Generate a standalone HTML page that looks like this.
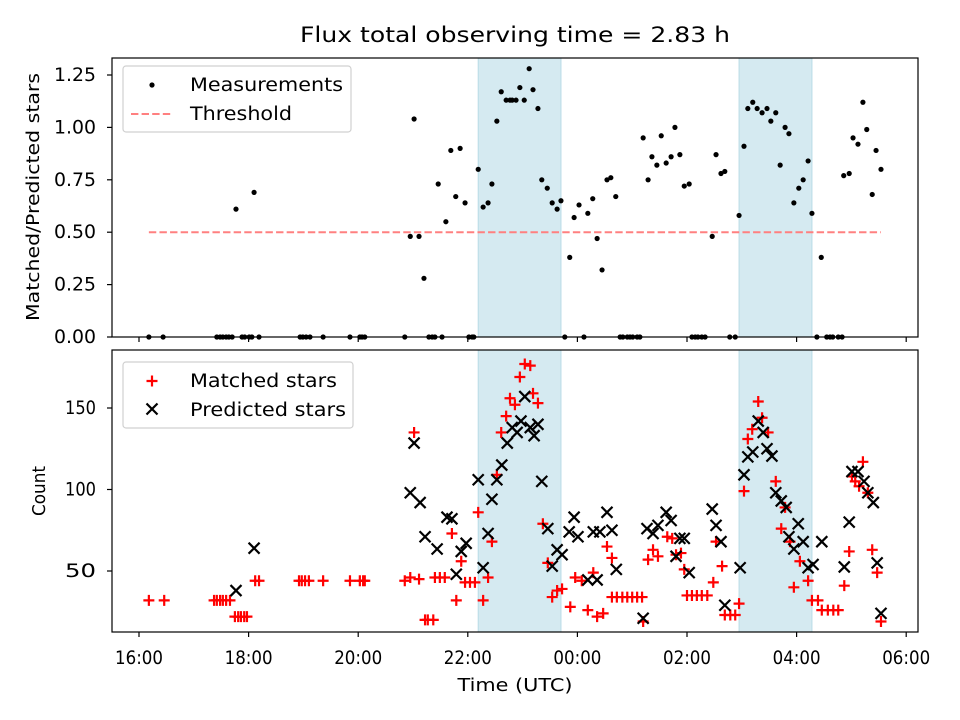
<!DOCTYPE html>
<html><head><meta charset="utf-8"><style>
html,body{margin:0;padding:0;background:#fff}
svg{display:block;font-family:"DejaVu Sans","Liberation Sans",sans-serif}
</style></head><body>
<svg id="chart" width="960" height="720" viewBox="0 0 960 720" xmlns="http://www.w3.org/2000/svg">
<text x="515" y="42" font-size="21" text-anchor="middle" textLength="430" lengthAdjust="spacingAndGlyphs">Flux total observing time = 2.83 h</text>
<text transform="translate(39,197) rotate(-90)" font-size="18" text-anchor="middle" textLength="248" lengthAdjust="spacingAndGlyphs">Matched/Predicted stars</text>
<text transform="translate(45,491) rotate(-90)" font-size="18" text-anchor="middle" textLength="50" lengthAdjust="spacingAndGlyphs">Count</text>
<text x="515" y="691" font-size="18" text-anchor="middle" textLength="115" lengthAdjust="spacingAndGlyphs">Time (UTC)</text>
<g id="top"></g>
<g id="bot"></g>
</svg>
<script>
// hours since 16:00 UTC
const spanStarts = [6.19, 10.95];
const spanEnds = [7.70, 12.28];
const xTickHours = [0, 2, 4, 6, 8, 10, 12, 14];
const xTickLabels = ["16:00","18:00","20:00","22:00","00:00","02:00","04:00","06:00"];
const ratioTicks = [0, 0.25, 0.5, 0.75, 1.0, 1.25];
const ratioTickLabels = ["0.00","0.25","0.50","0.75","1.00","1.25"];
const countTicks = [50, 100, 150];
const threshold = 0.5;
const thresholdStart = 0.18, thresholdEnd = 13.54;

const ratioTimes = [0.18,0.44,1.42,1.48,1.53,1.59,1.64,1.70,1.88,1.93,2.01,2.06,2.19,2.94,2.99,3.05,3.12,3.36,3.85,4.03,4.07,4.12,4.85,5.29,5.35,5.40,5.53,6.02,6.08,6.11,7.77,8.12,8.78,8.83,8.91,8.96,9.01,9.09,9.14,10.09,10.15,10.20,10.27,10.33,10.78,10.88,12.37,12.55,12.61,12.66,12.76,12.83,
1.77,2.10,4.95,5.02,5.11,5.20,5.46,5.60,5.69,5.78,5.86,5.95,6.19,6.28,6.37,6.44,6.53,6.61,6.70,6.77,6.81,6.88,6.95,7.03,7.12,7.19,7.28,7.35,7.45,7.54,7.63,7.70,7.86,7.94,8.03,8.19,8.28,8.36,8.45,8.54,8.61,8.70,9.20,9.29,9.36,9.45,9.53,9.62,9.71,9.78,9.87,9.95,10.04,10.46,10.53,10.62,10.69,10.95,11.04,11.11,11.20,11.28,11.37,11.46,11.53,11.62,11.70,11.79,11.86,11.95,12.04,12.12,12.21,12.28,12.45,12.86,12.96,13.03,13.12,13.21,13.28,13.38,13.45,13.54];
const ratioValues = [0,0,0,0,0,0,0,0,0,0,0,0,0,0,0,0,0,0,0,0,0,0,0,0,0,0,0,0,0,0,0,0,0,0,0,0,0,0,0,0,0,0,0,0,0,0,0,0,0,0,0,0,
0.61,0.69,0.48,1.04,0.48,0.28,0.73,0.55,0.89,0.67,0.90,0.64,0.80,0.62,0.64,0.73,1.03,1.17,1.13,1.13,1.13,1.13,1.19,1.13,1.28,1.18,1.09,0.75,0.71,0.64,0.61,0.65,0.38,0.57,0.63,0.59,0.66,0.47,0.32,0.75,0.76,0.67,0.95,0.75,0.86,0.82,0.96,0.83,0.86,1.00,0.87,0.72,0.73,0.48,0.87,0.78,0.79,0.58,0.91,1.09,1.12,1.09,1.07,1.09,1.03,1.07,0.82,1.00,0.97,0.64,0.71,0.75,0.84,0.59,0.38,0.77,0.78,0.95,0.92,1.12,0.99,0.68,0.89,0.80];

const matchedTimes = [0.18,0.46,1.37,1.42,1.48,1.53,1.59,1.66,1.75,1.81,1.86,1.92,1.97,2.12,2.19,2.92,2.97,3.03,3.10,3.36,3.85,4.03,4.09,4.12,4.85,4.95,5.02,5.11,5.22,5.27,5.37,5.40,5.49,5.58,5.71,5.79,5.88,5.95,6.04,6.13,6.19,6.28,6.37,6.44,6.53,6.61,6.70,6.77,6.86,6.95,7.04,7.14,7.19,7.28,7.37,7.46,7.54,7.63,7.72,7.87,7.96,8.08,8.19,8.29,8.36,8.47,8.54,8.63,8.63,8.72,8.82,8.91,9.00,9.09,9.18,9.20,9.29,9.38,9.47,9.64,9.73,9.80,9.89,9.95,10.00,10.09,10.18,10.27,10.37,10.48,10.53,10.64,10.69,10.79,10.88,10.95,11.04,11.11,11.19,11.30,11.37,11.48,11.62,11.72,11.79,11.88,11.95,12.06,12.21,12.28,12.39,12.46,12.57,12.67,12.76,12.87,12.96,13.01,13.07,13.14,13.21,13.30,13.38,13.47,13.54];
const matchedCounts = [32,32,32,32,32,32,32,32,22,22,22,22,22,44,44,44,44,44,44,44,44,44,44,44,44,46,135,45,20,20,20,46,46,46,73,32,56,43,43,43,86,32,46,68,109,135,145,156,152,169,177,176,159,153,79,55,34,38,39,28,46,44,26,49,22,24,65,58,34,34,34,34,34,34,34,19,57,63,59,71,70,60,61,51,35,35,35,35,35,43,68,53,23,23,23,30,99,131,137,154,144,135,105,76,89,68,40,56,44,32,32,26,26,26,26,41,62,108,105,102,117,98,63,49,19];

const predictedTimes = [1.77,2.10,4.95,5.02,5.13,5.22,5.44,5.62,5.71,5.79,5.88,5.97,6.19,6.28,6.37,6.44,6.53,6.62,6.72,6.81,6.90,6.97,7.04,7.14,7.21,7.28,7.35,7.46,7.54,7.63,7.72,7.85,7.94,8.01,8.19,8.29,8.36,8.41,8.54,8.63,8.71,9.20,9.27,9.38,9.47,9.62,9.71,9.80,9.87,9.95,10.04,10.46,10.53,10.62,10.69,10.97,11.04,11.11,11.20,11.30,11.39,11.46,11.55,11.62,11.72,11.81,11.86,11.95,12.03,12.12,12.21,12.30,12.46,12.87,12.96,13.01,13.12,13.23,13.30,13.40,13.47,13.54];
const predictedCounts = [38,64,98,128.5,92,71,63.5,83,82,48,62,67,106,52,73,94,106,115,128.5,138,135,142,157,138,133,140,105,76,53,63,60,74,83,71,44.5,74,44.5,74,86,75,51,21,76,73,78,86,81,59,70,70,49,88,78,68,29,52,109,120,123,142,135,125,120.5,98,93,89,71,63.5,79,68,52,54,68,52.5,80,111,111,105,98,92,55,24];

const NS = "http://www.w3.org/2000/svg";
const L = 112, R = 918;
const X = h => 139 + h * 54.8;
const YT = v => 337 - v * 209.6;
const YB = c => 571 - (c - 50) * 1.63;
function mk(tag, attrs, parent) {
  const e = document.createElementNS(NS, tag);
  for (const k in attrs) e.setAttribute(k, attrs[k]);
  parent.appendChild(e);
  return e;
}
function panel(g, top, bottom, name) {
  for (let i = 0; i < spanStarts.length; i++) {
    const r = mk('rect', {x: X(spanStarts[i]), y: top, width: X(spanEnds[i]) - X(spanStarts[i]), height: bottom - top, fill: '#d5eaf1', stroke: '#b9dbe6', 'stroke-width': 1}, g);
    
    
  }
  for (let i = 0; i < xTickHours.length; i++) {
    const t = mk('line', {x1: X(xTickHours[i]), x2: X(xTickHours[i]), y1: bottom, y2: bottom + 5, stroke: '#000', 'stroke-width': 1.2}, g);
    
    
  }
}
function frame(g, top, bottom, name) {
  const f = mk('rect', {x: L, y: top, width: R - L, height: bottom - top, fill: 'none', stroke: '#000', 'stroke-width': 1.2}, g);
  
  
}
function plus(g, x, y) {
  const p = mk('path', {d: `M${x-5.5},${y}H${x+5.5}M${x},${y-5.5}V${y+5.5}`, stroke: '#ff0000', 'stroke-width': 2.2, fill: 'none'}, g);
  
  
}
function cross(g, x, y) {
  const p = mk('path', {d: `M${x-5.5},${y-5.5}L${x+5.5},${y+5.5}M${x-5.5},${y+5.5}L${x+5.5},${y-5.5}`, stroke: '#000', 'stroke-width': 2.2, fill: 'none'}, g);
  
  
}
function label(g, x, y, s, anchor, len, name) {
  const t = mk('text', {x: x, y: y, 'font-size': 18.5, 'text-anchor': anchor, textLength: len, lengthAdjust: 'spacingAndGlyphs'}, g);
  t.textContent = s;
  
  
}

// top panel
const gt = document.getElementById('top');
panel(gt, 58, 337, 'ratio');
const th = mk('line', {x1: X(thresholdStart), x2: X(thresholdEnd), y1: YT(threshold), y2: YT(threshold), stroke: '#ff8080', 'stroke-width': 2, 'stroke-dasharray': '7.4,3.2'}, gt);


for (let i = 0; i < ratioTimes.length; i++) {
  const c = mk('circle', {cx: X(ratioTimes[i]), cy: YT(ratioValues[i]), r: 2.6, fill: '#000'}, gt);
  
  
}
for (let i = 0; i < ratioTicks.length; i++) {
  const y = YT(ratioTicks[i]);
  const t = mk('line', {x1: L - 5, x2: L, y1: y, y2: y, stroke: '#000', 'stroke-width': 1.2}, gt);
  
  
  label(gt, 96, y + 6, ratioTickLabels[i], 'end', 42, 'ratio-y-tick-label');
}
frame(gt, 58, 337, 'ratio');

// bottom panel
const gb = document.getElementById('bot');
panel(gb, 350, 632, 'count');
for (let i = 0; i < matchedTimes.length; i++) plus(gb, X(matchedTimes[i]), YB(matchedCounts[i]));
for (let i = 0; i < predictedTimes.length; i++) cross(gb, X(predictedTimes[i]), YB(predictedCounts[i]));
for (let i = 0; i < countTicks.length; i++) {
  const y = YB(countTicks[i]);
  const t = mk('line', {x1: L - 5, x2: L, y1: y, y2: y, stroke: '#000', 'stroke-width': 1.2}, gb);
  
  
  label(gb, 96, y + 6, String(countTicks[i]), 'end', 31, 'count-y-tick-label');
}
for (let i = 0; i < xTickHours.length; i++) {
  label(gb, X(xTickHours[i]), 664, xTickLabels[i], 'middle', 48, 'x-tick-label');
}
frame(gb, 350, 632, 'count');

// legends
function legendBox(g, y, w, name) {
  const b = mk('rect', {x: 123, y: y, width: w, height: 66, rx: 3, fill: '#fff', 'fill-opacity': 0.8, stroke: '#d0d0d0', 'stroke-width': 1.2}, g);
  
  
}
legendBox(gt, 66, 228, 'ratio-legend');
const ld = mk('circle', {cx: 152, cy: 85, r: 2.6, fill: '#000'}, gt);


label(gt, 190, 91, 'Measurements', 'start', 153, 'legend-measurements-label');
const ll = mk('line', {x1: 131, x2: 173, y1: 114, y2: 114, stroke: '#ff8080', 'stroke-width': 2, 'stroke-dasharray': '7.4,3.2'}, gt);


label(gt, 190, 120, 'Threshold', 'start', 102, 'legend-threshold-label');

legendBox(gb, 362, 230, 'count-legend');
plus(gb, 152, 381);
label(gb, 190, 387, 'Matched stars', 'start', 147, 'legend-matched-label');
cross(gb, 152, 409);
label(gb, 190, 416, 'Predicted stars', 'start', 156, 'legend-predicted-label');
</script>
</body></html>
